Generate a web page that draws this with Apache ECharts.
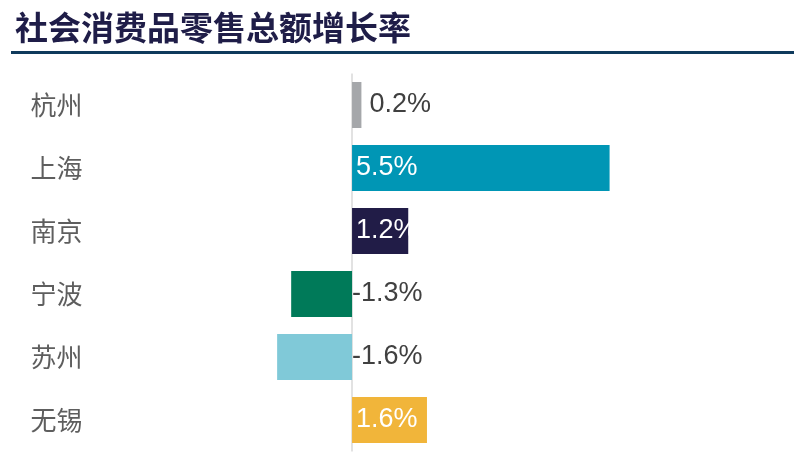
<!DOCTYPE html>
<html>
<head>
<meta charset="utf-8">
<script src="https://cdn.jsdelivr.net/npm/echarts@6/dist/echarts.min.js"></script>
<style>
  html, body { margin: 0; padding: 0; background: #fff; }
  #chart { width: 807px; height: 469px; }
</style>
</head>
<body>
<div id="chart"></div>
<script>
// city names, top to bottom
const cities = ['杭州', '上海', '南京', '宁波', '苏州', '无锡'];
// growth rate, %
const growth = [0.2, 5.5, 1.2, -1.3, -1.6, 1.6];
const barColors = ['#a5a7aa', '#0096b5', '#211c47', '#007a59', '#80c9d8', '#f1b53a'];

const chart = echarts.init(document.getElementById('chart'));

// label goes inside the bar when it is wide enough, otherwise to the right of it
function labelFor(v) {
    if (v < 0) {
        return { position: 'right', distance: 0, color: '#404040' };
    }
    if (v < 0.5) {
        return { position: 'right', distance: 8, color: '#404040' };
    }
    return { position: 'insideLeft', distance: 4, color: '#ffffff' };
}

const seriesData = growth.map((v, i) => ({
    value: v,
    itemStyle: { color: barColors[i] },
    label: labelFor(v)
}));

const option = {
    animation: false,
    textStyle: { fontFamily: 'Liberation Sans, Arial, sans-serif' },
    title: {
        text: '社会消费品零售总额增长率',
        left: 10,
        top: 6,
        textStyle: {
            fontFamily: 'Noto Sans CJK SC',
            fontWeight: 'bold',
            fontSize: 33,
            color: '#1f1d48'
        }
    },
    graphic: [{
        type: 'rect',
        shape: { x: 11, y: 51, width: 783, height: 3 },
        style: { fill: '#0f3a5c' }
    }],
    grid: {
        left: 258.4,
        right: 174,
        top: 73.5,
        bottom: 17.5
    },
    xAxis: {
        type: 'value',
        min: -2,
        max: 6,
        show: false
    },
    yAxis: {
        type: 'category',
        data: cities,
        inverse: true,
        axisLine: { show: false },
        axisTick: { show: false },
        axisLabel: {
            align: 'left',
            margin: 228,
            fontFamily: 'Noto Sans CJK SC',
            fontSize: 26,
            color: '#5e5e5e'
        }
    },
    series: [{
        type: 'bar',
        data: seriesData,
        barCategoryGap: '27%',
        label: {
            show: true,
            fontSize: 27,
            fontFamily: 'Liberation Sans, Arial, sans-serif',
            formatter: p => p.value.toFixed(1) + '%'
        },
        markLine: {
            silent: true,
            symbol: 'none',
            label: { show: false },
            lineStyle: { color: '#d9d9d9', type: 'solid', width: 1.5 },
            data: [{ xAxis: 0 }],
            z: 1
        }
    }]
};

chart.setOption(option);
</script>
</body>
</html>
